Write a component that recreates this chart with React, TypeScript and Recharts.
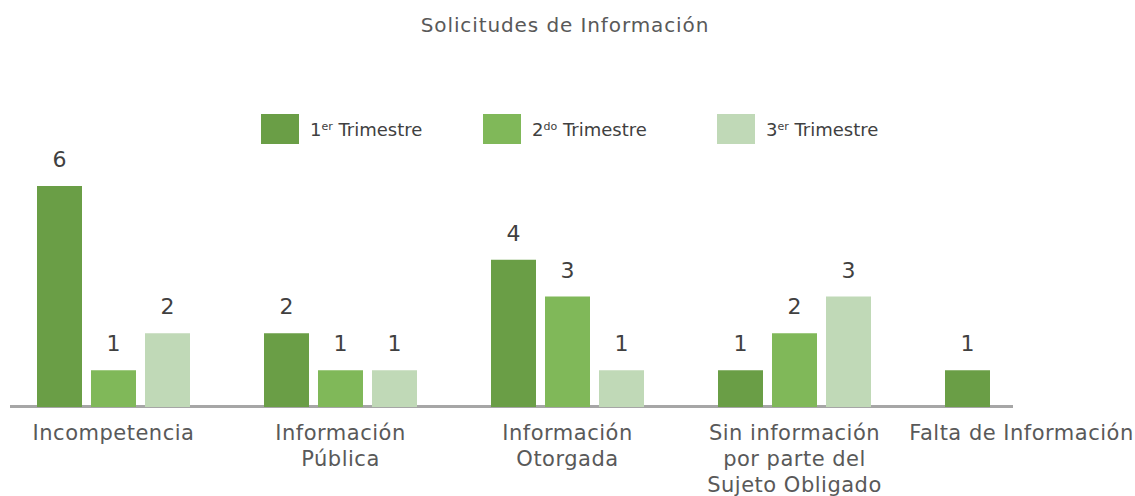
import React from "react";
import { Bar, BarChart, LabelList, XAxis, YAxis } from "recharts";

const categories = [
  "Incompetencia",
  "Información Pública",
  "Información Otorgada",
  "Sin información por parte del Sujeto Obligado",
  "Falta de Información",
];
const categoryLines = [
  ["Incompetencia"],
  ["Información", "Pública"],
  ["Información", "Otorgada"],
  ["Sin información", "por parte del", "Sujeto Obligado"],
  ["Falta de Información"],
];
const trimestre1 = [6, 2, 4, 1, 1];
const trimestre2 = [1, 1, 3, 2, null];
const trimestre3 = [2, 1, 1, 3, null];

const seriesNames = [
  { key: "t1", num: "1", sup: "er", color: "#6a9e46", left: 261 },
  { key: "t2", num: "2", sup: "do", color: "#80b859", left: 483 },
  { key: "t3", num: "3", sup: "er", color: "#c0d9b7", left: 717 },
];

const data = categories.map((c, i) => ({
  name: c,
  t1: trimestre1[i],
  t2: trimestre2[i],
  t3: trimestre3[i],
}));

const FONT = "'DejaVu Sans', sans-serif";

function CategoryTick({ x, y, payload, index }: any) {
  const lines = categoryLines[index] ?? [String(payload.value)];
  return (
    <text
      x={x}
      y={y}
      textAnchor="middle"
      fill="#595959"
      fontFamily={FONT}
      fontSize={21}
      letterSpacing={0.5}
    >
      {lines.map((l: string, i: number) => (
        <tspan key={i} x={x} dy={i === 0 ? 25 : 26}>
          {l}
        </tspan>
      ))}
    </text>
  );
}

function ValueLabel({ x, y, width, value }: any) {
  if (value === null || value === undefined) return null;
  return (
    <text
      x={Number(x) + Number(width) / 2}
      y={Number(y) - 19}
      textAnchor="middle"
      fill="#404040"
      fontFamily={FONT}
      fontSize={22}
    >
      {value}
    </text>
  );
}

export default function App() {
  return (
    <div
      style={{
        position: "fixed",
        left: 0,
        top: 0,
        width: 1135,
        height: 496,
        background: "#fff",
        fontFamily: FONT,
      }}
    >
      <div
        style={{
          position: "absolute",
          top: 12,
          left: 0,
          width: 1130,
          textAlign: "center",
          fontSize: 20,
          letterSpacing: 0.9,
          lineHeight: "26px",
          color: "#595959",
        }}
      >
        Solicitudes de Información
      </div>
      {seriesNames.map((s) => (
        <div
          key={s.key}
          style={{
            position: "absolute",
            top: 114,
            left: s.left,
            height: 30,
            display: "flex",
            alignItems: "center",
            color: "#404040",
            fontSize: 18,
            whiteSpace: "nowrap",
          }}
        >
          <div style={{ width: 38, height: 30, background: s.color, marginRight: 11 }} />
          <span>
            {s.num}
            <sup style={{ fontSize: 11, verticalAlign: "6px" }}>{s.sup}</sup> Trimestre
          </span>
        </div>
      ))}
      <div
        style={{
          position: "absolute",
          left: 10,
          top: 405,
          width: 1003,
          height: 3,
          background: "#a6a6a6",
        }}
      />
      <div style={{ position: "absolute", left: 0, top: 0 }}>
        <BarChart
          width={1135}
          height={496}
          data={data}
          margin={{ top: 186, right: 0, bottom: 0, left: 0 }}
          barCategoryGap={37}
          barGap={9}
        >
          <XAxis
            dataKey="name"
            axisLine={false}
            tickLine={false}
            interval={0}
            tick={<CategoryTick />}
            height={89}
          />
          <YAxis hide domain={[0, 6]} />
          <Bar dataKey="t1" fill="#6a9e46" barSize={45} isAnimationActive={false}>
            <LabelList dataKey="t1" content={<ValueLabel />} />
          </Bar>
          <Bar dataKey="t2" fill="#80b859" barSize={45} isAnimationActive={false}>
            <LabelList dataKey="t2" content={<ValueLabel />} />
          </Bar>
          <Bar dataKey="t3" fill="#c0d9b7" barSize={45} isAnimationActive={false}>
            <LabelList dataKey="t3" content={<ValueLabel />} />
          </Bar>
        </BarChart>
      </div>
    </div>
  );
}
